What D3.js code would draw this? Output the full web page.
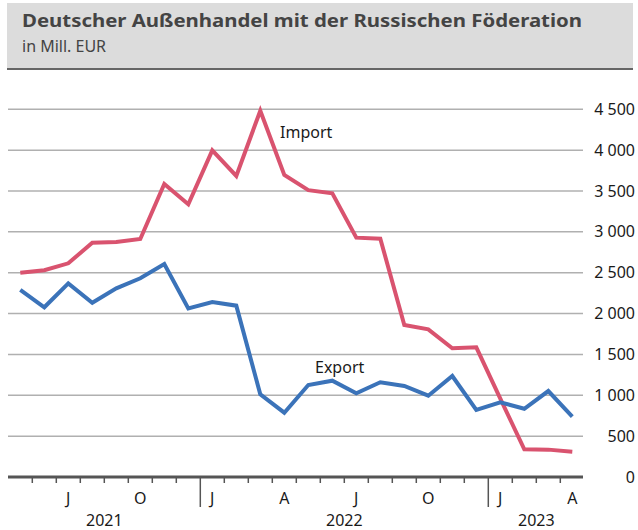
<html>
<head>
    <style>
        body {
            margin: 0;
            background-color: white;
        }
        .title {
            font-family: "Noto Sans", sans-serif;
            font-weight: bold;
            fill: #444;
        }
        .subtitle {
            font-family: "Noto Sans", sans-serif;
            fill: #444;
        }
        .lbl {
            font-family: "Noto Sans", sans-serif;
            font-size: 16px;
            fill: #1a1a1a;
        }
        .grid-line {
            stroke: #b0b0b0;
            stroke-width: 1.5;
        }
        .series {
            fill: none;
            stroke-width: 4;
            stroke-linejoin: miter;
        }
    </style>
</head>
<body>
<script src="https://cdn.jsdelivr.net/npm/d3@7"></script>
<script>
    var months = ["2021-05", "2021-06", "2021-07", "2021-08", "2021-09", "2021-10", "2021-11", "2021-12",
        "2022-01", "2022-02", "2022-03", "2022-04", "2022-05", "2022-06", "2022-07", "2022-08",
        "2022-09", "2022-10", "2022-11", "2022-12", "2023-01", "2023-02", "2023-03", "2023-04"];
    var importValues = [2500, 2530, 2615, 2868, 2876, 2913, 3586, 3337, 3998, 3684, 4483, 3696,
        3510, 3472, 2929, 2917, 1860, 1807, 1575, 1587, 960, 339, 335, 310];
    var exportValues = [2289, 2077, 2370, 2133, 2309, 2432, 2607, 2064, 2142, 2097, 1012, 787,
        1126, 1179, 1024, 1159, 1114, 995, 1236, 820, 914, 835, 1052, 738];
    var yTicks = [0, 500, 1000, 1500, 2000, 2500, 3000, 3500, 4000, 4500];
    var monthLetters = {"01": "J", "04": "A", "07": "J", "10": "O"};
    var years = ["2021", "2022", "2023"];

    (function() {
        var width = 638, height = 530;

        var svg = d3.select("body")
                .append("svg")
                .attr("width", width)
                .attr("height", height);

        // title box
        svg.append("rect")
                .attr("x", 7)
                .attr("y", 3)
                .attr("width", 626)
                .attr("height", 66)
                .attr("fill", "#dcdcdc");
        svg.append("line")
                .attr("x1", 7).attr("x2", 633)
                .attr("y1", 69).attr("y2", 69)
                .attr("stroke", "#666")
                .attr("stroke-width", 2);
        svg.append("text")
                .classed("title", 1)
                .attr("x", 22)
                .attr("y", 27)
                .attr("font-size", 18.5)
                .attr("textLength", 560)
                .attr("lengthAdjust", "spacingAndGlyphs")
                .text("Deutscher Außenhandel mit der Russischen Föderation");
        svg.append("text")
                .classed("subtitle", 1)
                .attr("x", 22)
                .attr("y", 52)
                .attr("font-size", 16)
                .text("in Mill. EUR");

        var x = d3.scaleBand()
                .domain(months)
                .range([8.3, 584.3])
                .padding(0);
        var y = d3.scaleLinear()
                .domain([0, 4500])
                .range([477, 109.3]);

        var fmt = d3.formatLocale({decimal: ",", thousands: "\u00a0", grouping: [3], currency: ["", " €"]}).format(",d");

        // grid + value labels
        svg.selectAll(".grid-line")
                .data(yTicks.filter(function(d) { return d > 0; }))
                .enter()
                .append("line")
                .classed("grid-line", 1)
                .attr("x1", 8).attr("x2", 583)
                .attr("y1", function(d) { return y(d); })
                .attr("y2", function(d) { return y(d); });

        svg.selectAll(".ylab")
                .data(yTicks)
                .enter()
                .append("text")
                .classed("lbl", 1)
                .classed("ylab", 1)
                .attr("x", 635)
                .attr("y", function(d) { return y(d) + 5.5; })
                .attr("text-anchor", "end")
                .text(function(d) { return fmt(d); });

        // month ticks
        svg.selectAll(".mtick")
                .data(months.slice(1))
                .enter()
                .append("line")
                .classed("mtick", 1)
                .attr("x1", function(d) { return x(d); })
                .attr("x2", function(d) { return x(d); })
                .attr("y1", y(0))
                .attr("y2", function(d) { return d.slice(5) === "01" ? 507 : 483; })
                .attr("stroke", "#555")
                .attr("stroke-width", 1.5);

        svg.append("line")
                .attr("x1", 8).attr("x2", 583)
                .attr("y1", y(0)).attr("y2", y(0))
                .attr("stroke", "#555")
                .attr("stroke-width", 3);

        svg.selectAll(".mlab")
                .data(months.filter(function(d) { return monthLetters[d.slice(5)]; }))
                .enter()
                .append("text")
                .classed("lbl", 1)
                .attr("x", function(d) { return x(d) + x.bandwidth() / 2; })
                .attr("y", 504)
                .attr("text-anchor", "middle")
                .text(function(d) { return monthLetters[d.slice(5)]; });

        svg.selectAll(".yearlab")
                .data(years)
                .enter()
                .append("text")
                .classed("lbl", 1)
                .attr("x", function(yr) {
                    var ms = months.filter(function(m) { return m.slice(0, 4) === yr; });
                    return (x(ms[0]) + x(ms[ms.length - 1]) + x.bandwidth()) / 2;
                })
                .attr("y", 526)
                .attr("text-anchor", "middle")
                .text(function(d) { return d; });

        // lines
        var line = d3.line()
                .x(function(d, i) { return x(months[i]) + x.bandwidth() / 2; })
                .y(function(d) { return y(d); });

        svg.append("path")
                .classed("series", 1)
                .attr("stroke", "#d9536f")
                .attr("d", line(importValues));
        svg.append("path")
                .classed("series", 1)
                .attr("stroke", "#3b73b9")
                .attr("d", line(exportValues));

        svg.append("text")
                .classed("lbl", 1)
                .attr("x", 280)
                .attr("y", 138)
                .attr("font-size", 17)
                .text("Import");
        svg.append("text")
                .classed("lbl", 1)
                .attr("x", 315)
                .attr("y", 372.5)
                .attr("font-size", 17)
                .text("Export");
    })();
</script>
</body>
</html>
